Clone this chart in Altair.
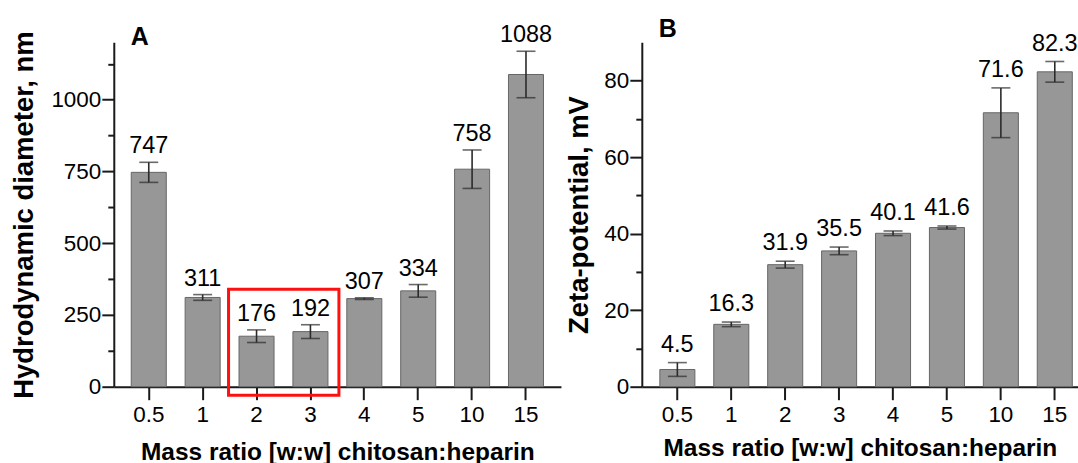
import altair as alt
import pandas as pd

# ---- data ----
ratios = ["0.5", "1", "2", "3", "4", "5", "10", "15"]
diam = [747, 311, 176, 192, 307, 334, 758, 1088]
diam_err = [35, 10, 22, 24, 3, 22, 67, 81]
diam_labels = ["747", "311", "176", "192", "307", "334", "758", "1088"]
zeta = [4.5, 16.3, 31.9, 35.5, 40.1, 41.6, 71.6, 82.3]
zeta_err = [1.8, 0.6, 0.9, 1.0, 0.6, 0.4, 6.5, 2.7]
zeta_labels = ["4.5", "16.3", "31.9", "35.5", "40.1", "41.6", "71.6", "82.3"]
diam_ticks = [0, 125, 250, 375, 500, 625, 750, 875, 1000, 1125]
diam_major_step = 250
zeta_ticks = [0, 10, 20, 30, 40, 50, 60, 70, 80]
zeta_major_step = 20
box_from = ["2"]
box_to = ["3"]
box_top = [340]
box_bottom = [-30]

FONT = "Liberation Sans"
XTITLE = "Mass ratio [w:w] chitosan:heparin"
AX = "#1a1a1a"


def panel(values, errs, labels, ymax, ticks, step, ytitle, width, po, align,
          letter, letter_x, letter_y, ytitle_x, xtitle_y, label_dy, box=False):
    df = pd.DataFrame({
        "ratio": ratios,
        "value": values,
        "lo": [v - e for v, e in zip(values, errs)],
        "hi": [v + e for v, e in zip(values, errs)],
        "label": labels,
    })
    xs = alt.Scale(domain=ratios, paddingInner=0.35, paddingOuter=po, align=align)
    ys = alt.Scale(domain=[0, ymax], nice=False, zero=True)
    is_major = f"datum.value % {step} === 0"
    xaxis = alt.Axis(
        title=XTITLE, labelAngle=0, tickSize=13, tickWidth=2, tickColor=AX,
        domainColor=AX, domainWidth=2, labelFont=FONT, labelFontSize=22.5,
        labelColor="black", labelPadding=4, titleFont=FONT, titleFontSize=24.5,
        titleFontWeight="bold", titleColor="black", titleY=xtitle_y,
        titleBaseline="alphabetic", grid=False,
    )
    yaxis = alt.Axis(
        values=ticks, format="d",
        labelExpr=f"{is_major} ? datum.label : ''",
        tickSize={"condition": {"test": is_major, "value": 12}, "value": 6},
        tickWidth=2, tickColor=AX, domainColor=AX,
        domainWidth=2, labelFont=FONT, labelFontSize=22.5, labelColor="black",
        labelPadding=1, title=ytitle, titleFont=FONT, titleFontSize=27.5,
        titleFontWeight="bold", titleColor="black", titleX=ytitle_x,
        titleAngle=-90, titleBaseline="middle", grid=False, orient="left",
    )
    base = alt.Chart(df)
    X = alt.X("ratio:N", scale=xs, sort=None, axis=xaxis)
    Yargs = dict(scale=ys, axis=yaxis, title=ytitle)
    bars = base.mark_bar(color="#979797", stroke="#666666", strokeWidth=1).encode(
        x=X, y=alt.Y("value:Q", **Yargs),
    )
    stems = base.mark_rule(color="#2b2b2b", strokeWidth=1.6).encode(
        x=X, y=alt.Y("lo:Q", **Yargs), y2="hi:Q",
    )
    cap_lo = base.mark_tick(color="#2b2b2b", size=19, thickness=1.6).encode(
        x=X, y=alt.Y("lo:Q", **Yargs),
    )
    cap_hi = base.mark_tick(color="#2b2b2b", size=19, thickness=1.6).encode(
        x=X, y=alt.Y("hi:Q", **Yargs),
    )
    text = base.mark_text(font=FONT, fontSize=23.5, color="black",
                          baseline="alphabetic", dy=-label_dy).encode(
        x=X, y=alt.Y("hi:Q", **Yargs), text="label:N",
    )
    letter_mark = alt.Chart(pd.DataFrame({"t": [letter]})).mark_text(
        font=FONT, fontSize=25, fontWeight="bold", color="black",
        align="center", baseline="alphabetic",
    ).encode(x=alt.value(letter_x), y=alt.value(letter_y), text="t:N")
    layers = [bars, stems, cap_lo, cap_hi, text, letter_mark]
    if box:
        bdf = pd.DataFrame({"a": box_from, "b": box_to, "top": box_top, "bot": box_bottom})
        rect = alt.Chart(bdf).mark_rect(
            filled=False, stroke="#ff1010", strokeWidth=3, xOffset=-10.5, x2Offset=11,
        ).encode(
            x=alt.X("a:N", scale=xs, sort=None, bandPosition=0, axis=xaxis),
            x2=alt.X2("b:N", bandPosition=1),
            y=alt.Y("top:Q", **Yargs),
            y2="bot:Q",
        )
        layers.append(rect)
    return alt.layer(*layers).properties(width=width, height=345)


pa = panel(diam, diam_err, diam_labels, 1200, diam_ticks, diam_major_step,
           "Hydrodynamic diameter, nm", 448, 0.324, 0.5,
           "A", 26, 3, -89, 73, 9, box=True)
pb = panel(zeta, zeta_err, zeta_labels, 90, zeta_ticks, zeta_major_step,
           "Zeta-potential, mV", 437, 0.22, 0.76,
           "B", 26, -5, -62, 69, 11)

chart = alt.hconcat(pa, pb, spacing=81, bounds="flush").properties(
    padding={"left": 10, "top": 17, "right": 0, "bottom": 0}
).configure_view(stroke=None)

chart.save("out.html", embed_options={"renderer": "svg", "actions": False})
